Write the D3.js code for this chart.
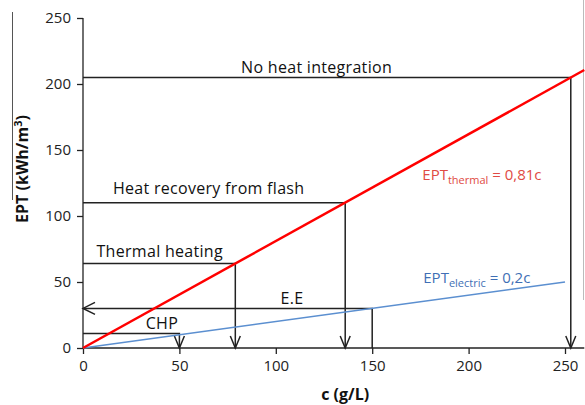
<!DOCTYPE html>
<html>
<head>
<meta charset="utf-8">
<script src="https://cdn.jsdelivr.net/npm/d3@7"></script>
<style>
  body { margin: 0; background: #fff; }
  text { font-family: "Open Sans", sans-serif; }
</style>
</head>
<body>
<svg id="chart" width="585" height="405"></svg>
<script>
"use strict";
// data
var xTicks = [0, 50, 100, 150, 200, 250];
var yTicks = [0, 50, 100, 150, 200, 250];
var thermalLine = [[0, 0], [260, 210.6]];
var electricLine = [[0, 0], [250, 50]];
// reading lines: label, c, EPT, arrow at end
var guides = [
  { name: 'No heat integration', c: 253, v: 205, arrow: 'down' },
  { name: 'Heat recovery from flash', c: 136, v: 110, arrow: 'down' },
  { name: 'Thermal heating', c: 79, v: 64, arrow: 'down' },
  { name: 'E.E', c: 150, v: 30, arrow: 'left' },
  { name: 'CHP', c: 50, v: 11, arrow: 'down' }
];
var labelPos = [
  { name: 'No heat integration', c: 82, v: 208 },
  { name: 'Heat recovery from flash', c: 15.5, v: 117 },
  { name: 'Thermal heating', c: 7, v: 69 },
  { name: 'E.E', c: 102.5, v: 33.5 },
  { name: 'CHP', c: 32.5, v: 14.5 }
];

var svg = d3.select('#chart');
var x = d3.scaleLinear().domain([0, 250]).range([83, 565]);
var y = d3.scaleLinear().domain([0, 250]).range([348, 18]);

// border leftovers of the cropped figure
svg.append('line').attr('x1', 12.5).attr('x2', 12.5).attr('y1', 12).attr('y2', 200)
  .attr('stroke', '#555').attr('stroke-width', 1);
svg.append('line').attr('x1', 583.5).attr('x2', 583.5).attr('y1', 0).attr('y2', 300)
  .attr('stroke', '#bbb').attr('stroke-width', 1);

// axes
var xAxis = svg.append('g').attr('transform', 'translate(0,348)');
xAxis.call(d3.axisBottom(x).tickValues(d3.range(0, 261, 10)).tickSize(4).tickFormat(''))
  .call(function (g) { g.select('.domain').remove(); });
xAxis.call(d3.axisBottom(x).tickValues(xTicks).tickSize(6).tickPadding(6).tickFormat(d3.format('d')));
xAxis.select('.domain').attr('d', 'M' + x(0) + ',0H' + x(260));
xAxis.selectAll('line, path').attr('stroke', '#222').attr('stroke-width', 1.3);
xAxis.selectAll('text').attr('font-size', 15).attr('fill', '#222');

var yAxis = svg.append('g').attr('transform', 'translate(83,0)');
yAxis.call(d3.axisLeft(y).tickValues(yTicks).tickSize(6).tickPadding(6));
yAxis.select('.domain').attr('d', 'M0,' + y(250) + 'V' + y(0));
yAxis.selectAll('line, path').attr('stroke', '#222').attr('stroke-width', 1.3);
yAxis.selectAll('text').attr('font-size', 15).attr('fill', '#222');

// axis titles
svg.append('text').attr('x', x(136)).attr('y', 400).attr('text-anchor', 'middle')
  .attr('font-weight', 'bold').attr('font-size', 16).attr('fill', '#111').text('c (g/L)');
var yt = svg.append('text').attr('transform', 'translate(28,169) rotate(-90)')
  .attr('text-anchor', 'middle').attr('font-weight', 'bold').attr('font-size', 16).attr('fill', '#111');
yt.append('tspan').text('EPT (kWh/m');
yt.append('tspan').attr('font-size', 11).attr('dy', -6).text('3');
yt.append('tspan').attr('dy', 6).text(')');

// guide lines
var line = d3.line().x(function (d) { return x(d[0]); }).y(function (d) { return y(d[1]); });
var gGuides = svg.append('g').attr('fill', 'none').attr('stroke', '#222').attr('stroke-width', 1.5);
guides.forEach(function (g) {
  gGuides.append('path').attr('d', line([[0, g.v], [g.c, g.v], [g.c, 0]]));
  if (g.arrow === 'down') {
    var ax = x(g.c), ay = y(0);
    gGuides.append('path').attr('d', 'M' + (ax - 5) + ',' + (ay - 12) + 'L' + ax + ',' + ay + 'L' + (ax + 5) + ',' + (ay - 12));
  } else {
    var lx = x(0), ly = y(g.v);
    gGuides.append('path').attr('d', 'M' + (lx + 12) + ',' + (ly - 6) + 'L' + lx + ',' + ly + 'L' + (lx + 12) + ',' + (ly + 6));
  }
});

// series lines
svg.append('path').attr('d', line(electricLine)).attr('fill', 'none')
  .attr('stroke', '#5b8fd0').attr('stroke-width', 1.5);
svg.append('path').attr('d', line(thermalLine)).attr('fill', 'none')
  .attr('stroke', '#ff0000').attr('stroke-width', 2.5);

// labels
svg.selectAll('text.lab').data(labelPos).enter().append('text')
  .attr('class', 'lab')
  .attr('x', function (d) { return x(d.c); })
  .attr('y', function (d) { return y(d.v); })
  .attr('font-size', 16).attr('letter-spacing', 0.3).attr('fill', '#111')
  .text(function (d) { return d.name; });

function eqLabel(cx, cv, color, main, sub, rest) {
  var t = svg.append('text').attr('x', x(cx)).attr('y', y(cv)).attr('font-size', 15).attr('fill', color);
  t.append('tspan').text(main);
  t.append('tspan').attr('font-size', 11).attr('dy', 4).text(sub);
  t.append('tspan').attr('dy', -4).text(rest);
}
eqLabel(176, 127.5, '#e04a44', 'EPT', 'thermal', ' = 0,81c');
eqLabel(176.5, 49, '#3f6fb5', 'EPT', 'electric', ' = 0,2c');
</script>
</body>
</html>
